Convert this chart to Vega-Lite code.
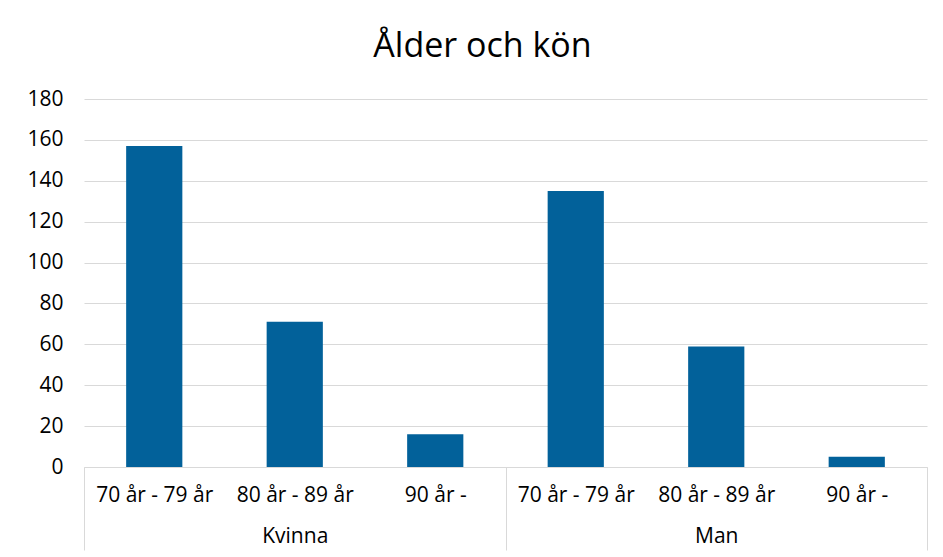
{
  "$schema": "https://vega.github.io/schema/vega-lite/v6.json",
  "width": 843,
  "height": 368,
  "autosize": "none",
  "padding": {"left": 84, "top": 99, "right": 16, "bottom": 90},
  "background": "#ffffff",
  "title": {
    "text": "Ålder och kön",
    "font": "Open Sans",
    "fontSize": 34,
    "fontWeight": "normal",
    "color": "#000000",
    "anchor": "middle",
    "frame": "group",
    "dx": -23,
    "baseline": "alphabetic",
    "offset": -3
  },
  "data": {
    "values": [
      {"kon": "Kvinna", "alder": "70 år - 79 år", "antal": 157},
      {"kon": "Kvinna", "alder": "80 år - 89 år", "antal": 71},
      {"kon": "Kvinna", "alder": "90 år -", "antal": 16},
      {"kon": "Man", "alder": "70 år - 79 år", "antal": 135},
      {"kon": "Man", "alder": "80 år - 89 år", "antal": 59},
      {"kon": "Man", "alder": "90 år -", "antal": 5}
    ]
  },
  "transform": [
    {"calculate": "datum.kon + '|' + datum.alder", "as": "key"}
  ],
  "mark": {"type": "bar", "color": "#02619A", "width": {"band": 0.4}},
  "encoding": {
    "x": {
      "field": "key",
      "type": "nominal",
      "sort": null,
      "scale": {"paddingInner": 0, "paddingOuter": 0},
      "axis": {
        "title": null,
        "domainColor": "#d9d9d9",
        "domainWidth": 1,
        "tickBand": "extent",
        "tickSize": 83,
        "tickColor": "#d9d9d9",
        "tickWidth": 1,
        "tickOpacity": {
          "condition": {
            "test": "isValid(datum.value) && datum.value != 'Kvinna|90 år -' && datum.value != 'Man|90 år -'",
            "value": 0
          },
          "value": 1
        },
        "labelExpr": "isValid(datum.value) ? (split(datum.value, '|')[1] == '80 år - 89 år' ? [split(datum.value, '|')[1], split(datum.value, '|')[0]] : split(datum.value, '|')[1]) : ''",
        "labelAngle": 0,
        "labelFont": "Open Sans",
        "labelFontSize": 21,
        "labelColor": "#000000",
        "labelPadding": -66,
        "labelLineHeight": 41,
        "labelOverlap": false,
        "labelBaseline": "top",
        "grid": false
      }
    },
    "y": {
      "field": "antal",
      "type": "quantitative",
      "scale": {"domain": [0, 180], "nice": false},
      "axis": {
        "title": null,
        "values": [0, 20, 40, 60, 80, 100, 120, 140, 160, 180],
        "domain": false,
        "ticks": false,
        "tickSize": 0,
        "labelPadding": 21,
        "labelFont": "Open Sans",
        "labelFontSize": 21,
        "labelColor": "#000000",
        "gridColor": "#d9d9d9",
        "gridWidth": 1
      }
    }
  },
  "config": {"view": {"stroke": null}}
}
